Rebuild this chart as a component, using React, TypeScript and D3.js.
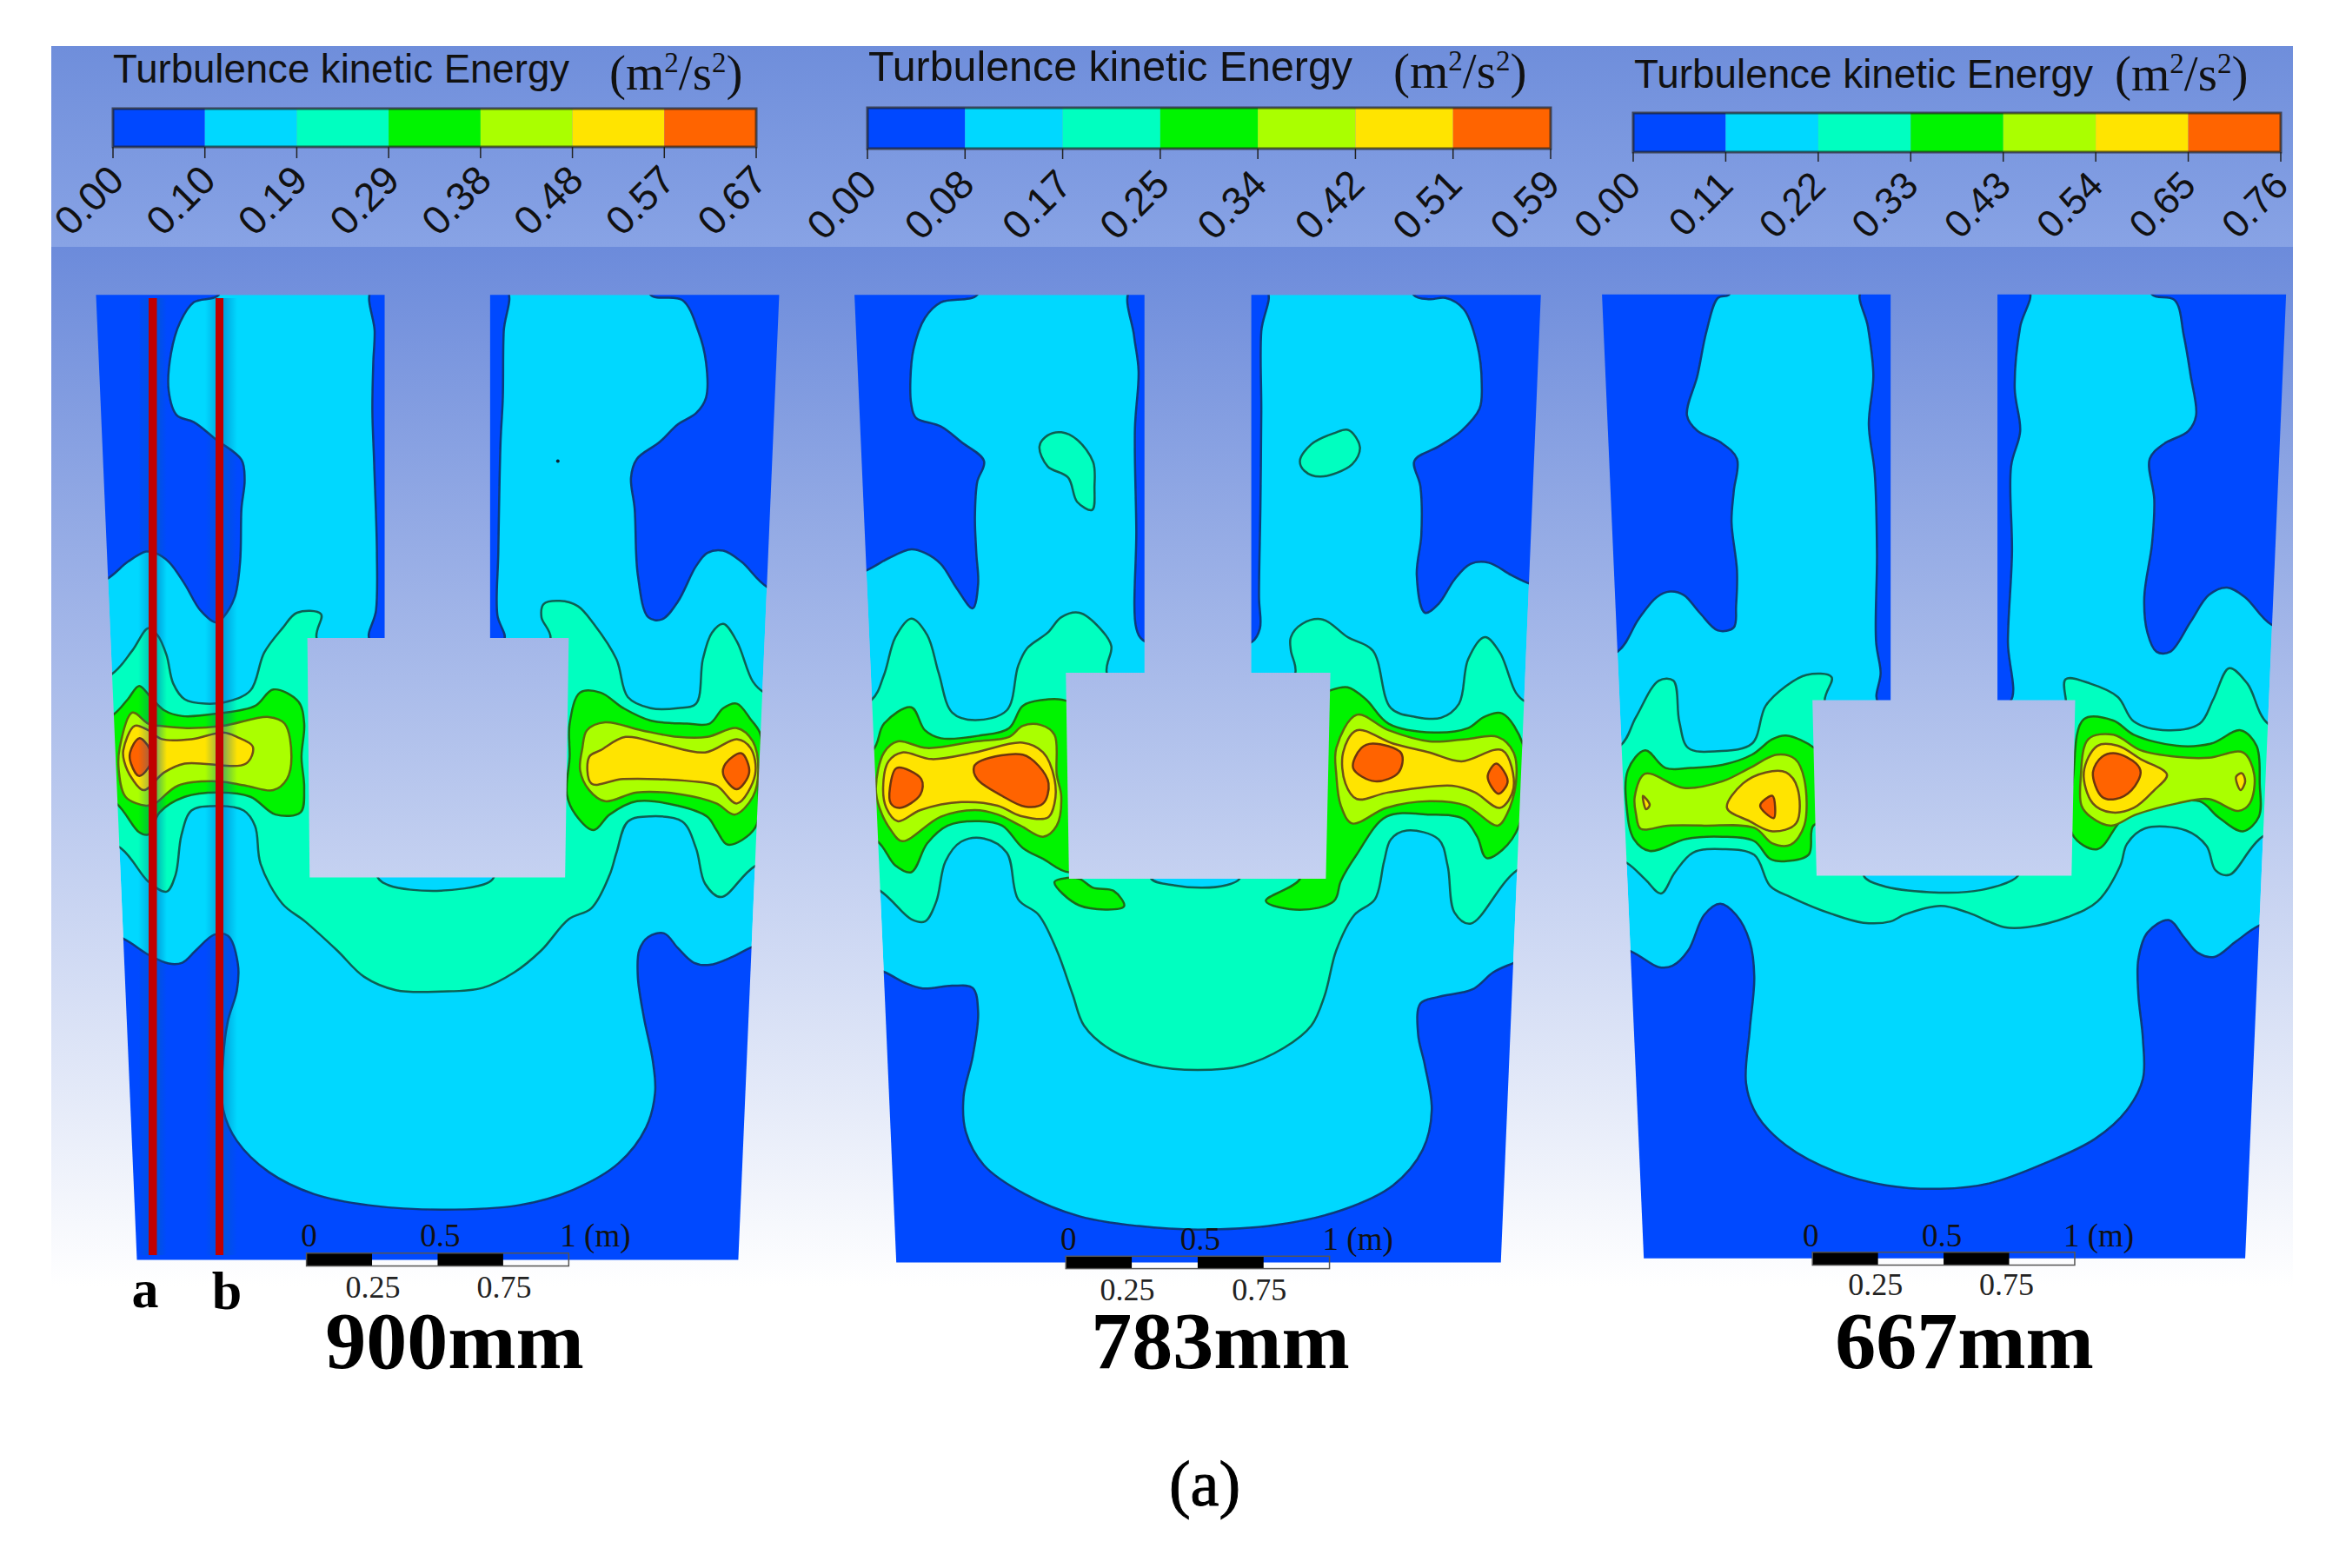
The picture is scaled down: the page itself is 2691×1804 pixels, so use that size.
import React from 'react';
import * as d3 from 'd3';

type Pt = [number, number];

// Shares of the colour bar, low to high
const levelColors = ['#0048ff', '#00d8ff', '#00ffc0', '#00f400', '#aaff00', '#ffe400', '#ff6400'];
const levelLines = ['#0b3a78', '#0a4f70', '#0d5f52', '#1f6a18', '#5a6a0c', '#6f5012', '#6e340e'];

const panelNames = ['900mm', '783mm', '667mm'];
const ticks900 = ['0.00', '0.10', '0.19', '0.29', '0.38', '0.48', '0.57', '0.67'];
const ticks783 = ['0.00', '0.08', '0.17', '0.25', '0.34', '0.42', '0.51', '0.59'];
const ticks667 = ['0.00', '0.11', '0.22', '0.33', '0.43', '0.54', '0.65', '0.76'];
const scaleTop = [0, 0.5];
const scaleBottom = [0.25, 0.75];
const legendTitle = 'Turbulence kinetic Energy';

// Contours below are read off the picture, in mesh units (1568 units = 820px wide, 800px high)
// 900mm
const outline900: Pt[] = [[20, 18], [1523, 18], [1433, 2194], [110, 2194]];
const stem900: Pt[] = [[655, 0], [887, 0], [887, 800], [655, 800]];
const box900: Pt[] = [[485, 792], [1060, 792], [1052, 1332], [490, 1332]];
const blueTL900: Pt[] = [[290, 18], [235, 35], [205, 80], [185, 150], [180, 235], [198, 290], [235, 305], [285, 345], [340, 390], [347, 435], [340, 500], [337, 620], [325, 700], [300, 745], [285, 757], [250, 730], [215, 670], [180, 620], [150, 600], [130, 597], [90, 620], [42, 660], [-50, 690], [-80, -60], [290, -60]];
const blueTR900: Pt[] = [[1240, 18], [1310, 30], [1345, 100], [1362, 170], [1362, 250], [1340, 285], [1300, 310], [1260, 350], [1210, 388], [1197, 430], [1205, 500], [1212, 650], [1235, 745], [1265, 750], [1300, 710], [1340, 630], [1365, 600], [1400, 595], [1440, 620], [1498, 678], [1620, 720], [1640, -60], [1240, -60]];
const blueStemL900: Pt[] = [[625, 10], [633, 100], [630, 170], [628, 280], [632, 400], [638, 600], [636, 730], [622, 795], [700, 810], [700, 0]];
const blueStemR900: Pt[] = [[925, 10], [917, 100], [915, 250], [910, 350], [905, 600], [903, 740], [918, 795], [850, 810], [850, 0]];
const blueLow900: Pt[] = [[78, 1469], [135, 1506], [180, 1526], [210, 1524], [240, 1496], [280, 1461], [310, 1463], [332, 1526], [330, 1586], [310, 1656], [300, 1736], [300, 1856], [330, 1926], [400, 1996], [500, 2046], [620, 2071], [780, 2081], [950, 2071], [1070, 2036], [1170, 1976], [1230, 1896], [1250, 1816], [1245, 1746], [1225, 1646], [1212, 1556], [1215, 1496], [1235, 1466], [1270, 1458], [1300, 1491], [1335, 1524], [1370, 1529], [1420, 1511], [1463, 1489], [1620, 1440], [1640, 2320], [-80, 2320], [-60, 1420]];
const teal900: Pt[] = [[55, 873], [100, 820], [135, 770], [155, 785], [175, 830], [190, 895], [215, 930], [260, 940], [310, 935], [360, 910], [390, 825], [430, 770], [462, 735], [515, 738], [505, 790], [560, 900], [960, 900], [1020, 792], [1000, 745], [1005, 715], [1040, 708], [1080, 720], [1115, 760], [1165, 840], [1190, 925], [1240, 950], [1300, 950], [1340, 940], [1355, 840], [1375, 780], [1400, 760], [1430, 800], [1465, 890], [1490, 915], [1620, 960], [1620, 1250], [1470, 1306], [1395, 1376], [1360, 1346], [1340, 1266], [1310, 1206], [1240, 1194], [1190, 1206], [1165, 1276], [1150, 1326], [1110, 1401], [1060, 1426], [1000, 1496], [940, 1546], [870, 1581], [780, 1589], [680, 1586], [610, 1556], [550, 1496], [480, 1431], [430, 1391], [382, 1301], [370, 1216], [345, 1181], [275, 1171], [230, 1181], [208, 1236], [195, 1326], [175, 1364], [135, 1341], [75, 1266], [-60, 1200], [-60, 920]];
const lens900: Pt[] = [[640, 1332], [665, 1350], [770, 1362], [880, 1345], [895, 1332], [895, 1290], [640, 1290]];
const greenL900: Pt[] = [[58, 965], [90, 930], [115, 900], [140, 925], [170, 955], [210, 968], [290, 962], [370, 945], [410, 908], [465, 935], [478, 985], [472, 1060], [478, 1130], [470, 1185], [415, 1190], [360, 1150], [290, 1140], [215, 1150], [160, 1185], [135, 1235], [115, 1230], [65, 1165], [-40, 1100], [-40, 1020]];
const limeL900: Pt[] = [[72, 1040], [100, 960], [135, 985], [160, 990], [220, 995], [300, 990], [400, 970], [435, 985], [450, 1060], [440, 1110], [410, 1135], [350, 1125], [285, 1115], [200, 1125], [150, 1165], [130, 1170], [85, 1150], [70, 1090]];
const yellowL900: Pt[] = [[80, 1045], [105, 990], [135, 1000], [165, 1020], [230, 1020], [300, 1005], [330, 1015], [365, 1037], [350, 1075], [215, 1075], [170, 1095], [125, 1135], [100, 1110], [82, 1070]];
const orangeL900: Pt[] = [[95, 1050], [115, 1018], [137, 1040], [140, 1075], [115, 1103], [97, 1075]];
const greenR900: Pt[] = [[1062, 985], [1085, 915], [1130, 915], [1180, 950], [1240, 978], [1320, 985], [1370, 985], [1400, 950], [1430, 940], [1460, 975], [1482, 1010], [1478, 1120], [1470, 1220], [1410, 1258], [1385, 1225], [1365, 1195], [1300, 1170], [1210, 1160], [1150, 1190], [1115, 1225], [1075, 1190], [1056, 1145], [1062, 1060]];
const limeR900: Pt[] = [[1090, 1040], [1100, 1000], [1140, 982], [1220, 1000], [1300, 1015], [1365, 1015], [1430, 995], [1465, 1025], [1477, 1090], [1465, 1150], [1425, 1190], [1385, 1165], [1310, 1145], [1210, 1140], [1140, 1160], [1105, 1135], [1085, 1090]];
const yellowR900: Pt[] = [[1105, 1060], [1130, 1045], [1185, 1015], [1260, 1030], [1360, 1050], [1430, 1020], [1460, 1040], [1470, 1100], [1430, 1165], [1385, 1125], [1330, 1115], [1180, 1110], [1110, 1120]];
const orangeR900: Pt[] = [[1405, 1075], [1440, 1052], [1457, 1095], [1430, 1133], [1400, 1100]];
const stray900: Pt[] = [[1036, 393]];

// 783mm
const outline783: Pt[] = [[25, 18], [1535, 18], [1447, 2200], [117, 2200]];
const stem783: Pt[] = [[663, 0], [898, 0], [898, 880], [663, 880]];
const box783: Pt[] = [[490, 870], [1072, 870], [1062, 1335], [497, 1335]];
const blueTL783: Pt[] = [[295, 18], [215, 35], [180, 70], [155, 140], [148, 210], [150, 265], [160, 295], [215, 315], [260, 350], [310, 393], [295, 440], [290, 520], [293, 600], [297, 670], [285, 725], [250, 680], [215, 625], [180, 600], [150, 592], [100, 612], [50, 640], [-60, 680], [-80, -60], [295, -60]];
const blueTR783: Pt[] = [[1255, 18], [1290, 28], [1325, 25], [1365, 50], [1395, 130], [1405, 220], [1400, 275], [1360, 325], [1310, 360], [1257, 392], [1270, 450], [1272, 560], [1262, 650], [1280, 735], [1310, 715], [1345, 660], [1380, 625], [1420, 622], [1470, 650], [1512, 670], [1620, 700], [1640, -60], [1255, -60]];
const blueStemL783: Pt[] = [[630, 10], [640, 110], [650, 190], [642, 320], [645, 550], [645, 770], [660, 797], [720, 810], [720, 0]];
const blueStemR783: Pt[] = [[933, 10], [920, 100], [920, 280], [918, 500], [915, 700], [917, 770], [900, 800], [850, 810], [850, 0]];
const blueLow783: Pt[] = [[88, 1544], [135, 1569], [175, 1582], [240, 1576], [285, 1581], [297, 1636], [285, 1736], [265, 1826], [270, 1906], [310, 1981], [400, 2046], [520, 2096], [650, 2118], [780, 2126], [950, 2116], [1100, 2081], [1210, 2026], [1275, 1946], [1295, 1856], [1280, 1756], [1265, 1686], [1270, 1616], [1310, 1601], [1385, 1584], [1430, 1546], [1472, 1526], [1620, 1470], [1640, 2320], [-80, 2320], [-60, 1500]];
const teal783: Pt[] = [[62, 932], [90, 875], [115, 790], [150, 748], [185, 785], [210, 870], [240, 960], [290, 977], [360, 955], [385, 855], [405, 815], [450, 780], [480, 745], [520, 735], [565, 770], [590, 810], [580, 870], [640, 960], [940, 960], [995, 870], [985, 820], [985, 790], [1010, 760], [1055, 750], [1110, 790], [1165, 820], [1205, 950], [1260, 970], [1315, 972], [1355, 940], [1375, 840], [1412, 790], [1445, 825], [1480, 915], [1500, 935], [1620, 970], [1620, 1260], [1482, 1316], [1380, 1436], [1345, 1411], [1330, 1306], [1310, 1246], [1240, 1226], [1205, 1246], [1190, 1296], [1170, 1381], [1125, 1416], [1085, 1496], [1060, 1596], [1030, 1666], [970, 1716], [880, 1756], [780, 1766], [680, 1756], [590, 1721], [530, 1666], [505, 1596], [470, 1496], [430, 1416], [385, 1381], [360, 1276], [310, 1244], [260, 1251], [225, 1296], [205, 1386], [180, 1431], [150, 1426], [80, 1361], [-60, 1300], [-60, 980]];
const lens783: Pt[] = [[678, 1335], [730, 1350], [790, 1355], [840, 1350], [872, 1335], [872, 1295], [678, 1295]];
const islandL783: Pt[] = [[432, 360], [450, 335], [480, 328], [515, 345], [550, 395], [553, 450], [548, 503], [515, 485], [495, 430], [450, 405]];
const islandR783: Pt[] = [[1005, 392], [1030, 355], [1080, 330], [1112, 323], [1137, 362], [1120, 400], [1050, 428], [1015, 415]];
const greenL783: Pt[] = [[65, 1045], [90, 985], [150, 948], [180, 1000], [215, 1018], [300, 1012], [365, 995], [395, 945], [435, 932], [495, 935], [560, 1000], [560, 1290], [497, 1320], [440, 1290], [395, 1265], [350, 1215], [300, 1205], [230, 1215], [185, 1255], [150, 1320], [115, 1305], [75, 1250], [-40, 1200], [-40, 1090]];
const chunkL783: Pt[] = [[492, 1333], [465, 1342], [520, 1395], [618, 1397], [595, 1362], [550, 1355], [520, 1335]];
const greenR783: Pt[] = [[1072, 910], [1110, 903], [1150, 930], [1200, 985], [1300, 1005], [1375, 995], [1410, 970], [1450, 962], [1495, 1030], [1500, 1100], [1487, 1215], [1450, 1270], [1415, 1288], [1395, 1240], [1365, 1200], [1290, 1190], [1195, 1195], [1130, 1280], [1095, 1340], [1080, 1385], [1005, 1405], [930, 1385], [1005, 1335], [1000, 1280], [1000, 950]];
const limeL783: Pt[] = [[72, 1130], [90, 1050], [120, 1025], [185, 1040], [290, 1025], [365, 1015], [395, 990], [435, 988], [465, 1010], [470, 1100], [480, 1150], [470, 1215], [440, 1240], [390, 1215], [340, 1190], [290, 1180], [215, 1195], [130, 1250], [105, 1225], [80, 1175]];
const yellowL783: Pt[] = [[88, 1130], [100, 1070], [130, 1050], [195, 1065], [290, 1050], [395, 1028], [440, 1050], [465, 1110], [465, 1165], [450, 1197], [390, 1193], [340, 1170], [260, 1162], [170, 1180], [120, 1205], [95, 1175]];
const orangeA783: Pt[] = [[103, 1130], [118, 1085], [172, 1110], [170, 1145], [125, 1175], [105, 1165]];
const orangeB783: Pt[] = [[288, 1082], [305, 1068], [395, 1055], [430, 1080], [452, 1120], [440, 1165], [400, 1172], [350, 1148], [295, 1110]];
const limeR783: Pt[] = [[1085, 1040], [1130, 965], [1200, 1000], [1290, 1025], [1370, 1020], [1440, 1015], [1475, 1050], [1480, 1120], [1460, 1190], [1440, 1215], [1370, 1170], [1290, 1160], [1195, 1175], [1120, 1210], [1095, 1170], [1085, 1100]];
const yellowR783: Pt[] = [[1100, 1050], [1130, 1000], [1210, 1030], [1290, 1050], [1360, 1070], [1450, 1045], [1475, 1130], [1445, 1175], [1390, 1140], [1340, 1125], [1200, 1140], [1130, 1155], [1105, 1120]];
const orangeC783: Pt[] = [[1122, 1085], [1140, 1040], [1165, 1030], [1228, 1052], [1222, 1095], [1170, 1115]];
const orangeD783: Pt[] = [[1418, 1105], [1437, 1075], [1462, 1115], [1442, 1143]];

// 667mm
const outline667: Pt[] = [[25, 17], [1530, 17], [1440, 2191], [117, 2191]];
const stem667: Pt[] = [[660, 0], [895, 0], [895, 940], [660, 940]];
const box667: Pt[] = [[488, 932], [1066, 932], [1058, 1328], [497, 1328]];
const blueTL667: Pt[] = [[305, 17], [280, 25], [255, 100], [235, 200], [212, 290], [235, 325], [285, 350], [322, 388], [315, 460], [310, 530], [322, 640], [320, 720], [315, 768], [280, 775], [240, 735], [205, 695], [175, 687], [145, 700], [105, 750], [60, 822], [-60, 860], [-80, -60], [305, -60]];
const blueTR667: Pt[] = [[1235, 17], [1285, 30], [1305, 110], [1320, 200], [1332, 290], [1315, 325], [1260, 355], [1230, 388], [1240, 480], [1235, 580], [1218, 700], [1225, 780], [1245, 823], [1275, 823], [1320, 755], [1360, 695], [1400, 678], [1440, 700], [1498, 762], [1620, 800], [1640, -60], [1235, -60]];
const blueStemL667: Pt[] = [[595, 10], [610, 90], [622, 200], [612, 310], [625, 420], [630, 600], [628, 800], [638, 870], [632, 935], [720, 945], [720, 0]];
const blueStemR667: Pt[] = [[965, 10], [945, 90], [933, 230], [945, 325], [925, 405], [927, 600], [918, 800], [923, 935], [850, 945], [850, 0]];
const blueLow667: Pt[] = [[88, 1498], [150, 1534], [180, 1531], [215, 1496], [250, 1416], [285, 1391], [320, 1416], [350, 1476], [360, 1556], [350, 1676], [342, 1796], [365, 1866], [430, 1936], [540, 1996], [650, 2026], [770, 2034], [880, 2021], [1000, 1976], [1110, 1921], [1180, 1856], [1215, 1786], [1215, 1696], [1205, 1596], [1205, 1516], [1225, 1456], [1272, 1428], [1305, 1466], [1335, 1501], [1372, 1511], [1420, 1476], [1470, 1441], [1620, 1390], [1640, 2320], [-80, 2320], [-60, 1450]];
const teal667: Pt[] = [[65, 1035], [100, 970], [150, 888], [182, 888], [195, 980], [215, 1040], [280, 1047], [355, 1030], [385, 945], [430, 900], [475, 875], [530, 880], [515, 935], [560, 1020], [1000, 1020], [1045, 960], [1045, 885], [1100, 895], [1160, 925], [1195, 980], [1270, 1000], [1340, 985], [1370, 930], [1405, 860], [1445, 895], [1490, 985], [1620, 1030], [1620, 1190], [1478, 1240], [1405, 1326], [1375, 1316], [1355, 1261], [1310, 1226], [1220, 1221], [1180, 1256], [1165, 1306], [1115, 1386], [1050, 1421], [960, 1444], [910, 1444], [830, 1411], [770, 1396], [690, 1416], [660, 1431], [600, 1434], [530, 1414], [440, 1376], [395, 1351], [360, 1281], [290, 1268], [225, 1276], [185, 1321], [155, 1368], [120, 1336], [78, 1298], [-60, 1240], [-60, 1080]];
const lens667: Pt[] = [[602, 1330], [640, 1350], [745, 1365], [860, 1360], [940, 1328], [940, 1290], [602, 1290]];
const greenL667: Pt[] = [[82, 1090], [120, 1045], [165, 1085], [220, 1085], [290, 1078], [355, 1055], [400, 1020], [430, 1012], [495, 1042], [540, 1100], [540, 1200], [490, 1215], [480, 1280], [430, 1295], [395, 1290], [360, 1250], [290, 1240], [210, 1245], [130, 1272], [95, 1245], [80, 1180]];
const limeL667: Pt[] = [[97, 1150], [120, 1098], [205, 1130], [290, 1115], [350, 1085], [410, 1055], [450, 1065], [470, 1110], [470, 1215], [440, 1258], [400, 1255], [360, 1220], [250, 1215], [170, 1215], [110, 1222], [100, 1190]];
const yellowL667: Pt[] = [[300, 1175], [335, 1120], [385, 1095], [430, 1095], [455, 1130], [452, 1210], [400, 1228], [350, 1205]];
const orangeL667: Pt[] = [[373, 1170], [400, 1148], [403, 1198]];
const speckL667: Pt[] = [[115, 1148], [130, 1168], [122, 1178]];
const greenR667: Pt[] = [[1062, 1100], [1085, 975], [1150, 978], [1195, 1010], [1290, 1035], [1365, 1030], [1430, 1000], [1465, 1035], [1472, 1120], [1470, 1195], [1435, 1228], [1380, 1195], [1340, 1160], [1250, 1170], [1175, 1195], [1115, 1268], [1060, 1235]];
const limeR667: Pt[] = [[1078, 1110], [1095, 1020], [1150, 1010], [1210, 1045], [1290, 1060], [1360, 1062], [1435, 1050], [1460, 1100], [1450, 1165], [1425, 1182], [1360, 1155], [1290, 1165], [1200, 1190], [1145, 1215], [1100, 1195], [1080, 1170]];
const yellowR667: Pt[] = [[1085, 1095], [1115, 1035], [1160, 1035], [1210, 1065], [1268, 1100], [1240, 1135], [1195, 1175], [1145, 1185], [1105, 1165]];
const orangeR667: Pt[] = [[1105, 1095], [1125, 1060], [1155, 1052], [1200, 1075], [1210, 1095], [1190, 1135], [1155, 1155], [1125, 1150]];
const speckR667: Pt[] = [[1420, 1105], [1433, 1097], [1440, 1115], [1430, 1135]];

// Paint order: low levels first, cyan is the floor of each panel
const regions900: [number, Pt[]][] = [[0, blueTL900], [0, blueTR900], [0, blueStemL900], [0, blueStemR900], [0, blueLow900], [2, teal900], [1, lens900], [3, greenL900], [4, limeL900], [5, yellowL900], [6, orangeL900], [3, greenR900], [4, limeR900], [5, yellowR900], [6, orangeR900]];
const regions783: [number, Pt[]][] = [[0, blueTL783], [0, blueTR783], [0, blueStemL783], [0, blueStemR783], [0, blueLow783], [2, teal783], [2, islandL783], [2, islandR783], [1, lens783], [3, greenL783], [3, chunkL783], [3, greenR783], [4, limeL783], [5, yellowL783], [6, orangeA783], [6, orangeB783], [4, limeR783], [5, yellowR783], [6, orangeC783], [6, orangeD783]];
const regions667: [number, Pt[]][] = [[0, blueTL667], [0, blueTR667], [0, blueStemL667], [0, blueStemR667], [0, blueLow667], [2, teal667], [1, lens667], [3, greenL667], [4, limeL667], [5, yellowL667], [6, orangeL667], [5, speckL667], [3, greenR667], [4, limeR667], [5, yellowR667], [6, orangeR667], [5, speckR667]];

const width = 2691;
const height = 1804;

const panels = [
  {
    id: 'p900', ox: 100, outline: outline900, stem: stem900, box: box900, regions: regions900, ticks: ticks900, stray: stray900,
    bar: { x0: 130, x1: 870, y0: 125, y1: 169, tickEnd: 182, lx: 15, ly: 210, fs: 46 },
    title: { x: 130, x1: 655, y: 95, fs: 47 }, unit: { x: 701, y: 103, fs: 57 },
    sb: { x0: 483, x1: 1060, y0: 2179, y1: 2208, top: 2164, bot: 2279, dTop: 3, dOne: -10, dBot: 1 }, name: { x: 523, y: 1574 },
  },
  {
    id: 'p783', ox: 970, outline: outline783, stem: stem783, box: box783, regions: regions783, ticks: ticks783, stray: [] as Pt[],
    bar: { x0: 998, x1: 1784, y0: 124, y1: 171, tickEnd: 183, lx: 13, ly: 215, fs: 46 },
    title: { x: 999, x1: 1556, y: 93, fs: 49 }, unit: { x: 1603, y: 101, fs: 57 },
    sb: { x0: 490, x1: 1070, y0: 2186, y1: 2214, top: 2171, bot: 2286, dTop: 3, dOne: -8, dBot: -5 }, name: { x: 1404, y: 1574 },
  },
  {
    id: 'p667', ox: 1830, outline: outline667, stem: stem667, box: box667, regions: regions667, ticks: ticks667, stray: [] as Pt[],
    bar: { x0: 1879, x1: 2624, y0: 130, y1: 175, tickEnd: 186, lx: 11, ly: 216, fs: 44 },
    title: { x: 1880, x1: 2408, y: 101, fs: 47 }, unit: { x: 2433, y: 104, fs: 57 },
    sb: { x0: 488, x1: 1065, y0: 2177, y1: 2206, top: 2164, bot: 2274, dTop: -2, dOne: -13, dBot: -3 }, name: { x: 2260, y: 1574 },
  },
];

const sans = '"Liberation Sans", Arial, sans-serif';
const serif = '"Liberation Serif", "Times New Roman", serif';

const y = d3.scaleLinear().domain([0, 1568]).range([330, 1130]);

const Panel = ({ p }: { p: (typeof panels)[number] }) => {
  const x = d3.scaleLinear().domain([0, 1568]).range([p.ox, p.ox + 820]);
  const toPx = (d: Pt): Pt => [x(d[0]), y(d[1])];
  const contour = d3.line().curve(d3.curveCatmullRomClosed.alpha(0.5));
  const poly = d3.line().curve(d3.curveLinearClosed);
  const mask = poly(p.outline.map(toPx)) as string;

  const legend = d3.scaleLinear().domain([0, levelColors.length]).range([p.bar.x0, p.bar.x1]);
  const metres = d3.scaleLinear().domain([0, 1]).range([x(p.sb.x0), x(p.sb.x1)]);
  const sy0 = y(p.sb.y0);
  const sy1 = y(p.sb.y1);

  return (
    <g>
      {/* legend */}
      <text x={p.title.x} y={p.title.y} fontFamily={sans} fontSize={p.title.fs} fill="#111"
        textLength={p.title.x1 - p.title.x} lengthAdjust="spacingAndGlyphs">{legendTitle}</text>
      <text x={p.unit.x} y={p.unit.y} fontFamily={serif} fontSize={p.unit.fs} fill="#111">
        (m<tspan dy={-20} fontSize={p.unit.fs * 0.58}>2</tspan>
        <tspan dy={20}>/s</tspan>
        <tspan dy={-20} fontSize={p.unit.fs * 0.58}>2</tspan>
        <tspan dy={20}>)</tspan>
      </text>
      {levelColors.map((c, i) => (
        <rect key={c} x={legend(i)} y={p.bar.y0} width={legend(i + 1) - legend(i)} height={p.bar.y1 - p.bar.y0} fill={c} />
      ))}
      <rect x={p.bar.x0} y={p.bar.y0} width={p.bar.x1 - p.bar.x0} height={p.bar.y1 - p.bar.y0}
        fill="none" stroke="#222" strokeOpacity={0.7} strokeWidth={3} />
      {p.ticks.map((t, i) => (
        <g key={t}>
          <line x1={legend(i)} x2={legend(i)} y1={p.bar.y1} y2={p.bar.tickEnd} stroke="#222" strokeWidth={1.5} />
          <text transform={`translate(${legend(i) + p.bar.lx},${p.bar.ly}) rotate(-45)`} textAnchor="end"
            fontFamily={sans} fontSize={p.bar.fs} fill="#111">{t}</text>
        </g>
      ))}

      {/* contour field */}
      <clipPath id={`clip-${p.id}`}><path d={mask} /></clipPath>
      <g clipPath={`url(#clip-${p.id})`} filter="url(#soft)">
        <path d={mask} fill={levelColors[1]} />
        {p.regions.map(([level, pts], i) => (
          <path key={i} d={contour(pts.map(toPx)) as string} fill={levelColors[level]}
            stroke={levelLines[level === 1 ? 2 : level]} strokeWidth={2.5} />
        ))}
        {p.stray.map((d, i) => <circle key={i} cx={x(d[0])} cy={y(d[1])} r={2} fill="#123" />)}
      </g>
      <path d={poly(p.stem.map(toPx)) as string} fill="url(#bodyBg)" />
      <path d={poly(p.box.map(toPx)) as string} fill="url(#bodyBg)" />

      {/* scale bar */}
      {scaleBottom.map(v => (
        <rect key={v} x={metres(v - 0.25)} y={sy0} width={metres(v) - metres(v - 0.25)} height={sy1 - sy0} fill="#000" />
      ))}
      <rect x={metres(0)} y={sy0} width={metres(1) - metres(0)} height={sy1 - sy0} fill="none" stroke="#555" strokeWidth={1.5} />
      {scaleTop.map(v => (
        <text key={v} x={metres(v) + p.sb.dTop} y={y(p.sb.top)} textAnchor="middle" fontFamily={serif} fontSize={37} fill="#111">{v}</text>
      ))}
      <text x={metres(1) + p.sb.dOne} y={y(p.sb.top)} fontFamily={serif} fontSize={37} fill="#111">1 (m)</text>
      {scaleBottom.map(v => (
        <text key={v} x={metres(v) + p.sb.dBot} y={y(p.sb.bot)} textAnchor="middle" fontFamily={serif} fontSize={36} fill="#222">{v}</text>
      ))}
    </g>
  );
};

export default function App() {
  const names = panelNames;
  return (
    <div style={{ position: 'absolute', left: 0, top: 0, width, height, background: '#fff' }}>
      <svg width={width} height={height} viewBox={`0 0 ${width} ${height}`} style={{ display: 'block' }}>
        <defs>
          <linearGradient id="legendBg" gradientUnits="userSpaceOnUse" x1={0} x2={0} y1={53} y2={284}>
            <stop offset="0" stopColor="#6f8edb" />
            <stop offset="1" stopColor="#88a3e5" />
          </linearGradient>
          <linearGradient id="bodyBg" gradientUnits="userSpaceOnUse" x1={0} x2={0} y1={284} y2={1480}>
            <stop offset="0" stopColor="#6c8bdb" />
            <stop offset="1" stopColor="#ffffff" />
          </linearGradient>
          <linearGradient id="glowR" x1="0" x2="1" y1="0" y2="0">
            <stop offset="0" stopColor="#0060b0" stopOpacity={0.45} />
            <stop offset="1" stopColor="#0060b0" stopOpacity={0} />
          </linearGradient>
          <linearGradient id="glowL" x1="1" x2="0" y1="0" y2="0">
            <stop offset="0" stopColor="#0060b0" stopOpacity={0.3} />
            <stop offset="1" stopColor="#0060b0" stopOpacity={0} />
          </linearGradient>
          <filter id="soft" x="-2%" y="-2%" width="104%" height="104%">
            <feGaussianBlur stdDeviation={0.6} />
          </filter>
        </defs>
        <rect width={width} height={height} fill="#fff" />
        <rect x={59} y={53} width={2579} height={231} fill="url(#legendBg)" />
        <rect x={59} y={284} width={2579} height={1196} fill="url(#bodyBg)" />

        {panels.map(p => <Panel key={p.id} p={p} />)}

        {/* sampling lines a and b */}
        <rect x={159} y={343} width={12} height={1101} fill="url(#glowL)" />
        <rect x={180} y={343} width={12} height={1101} fill="url(#glowR)" />
        <rect x={236} y={343} width={12} height={1101} fill="url(#glowL)" />
        <rect x={257} y={343} width={16} height={1101} fill="url(#glowR)" />
        <rect x={171} y={343} width={9.5} height={1101} fill="#c00000" />
        <rect x={248} y={343} width={9} height={1101} fill="#c00000" />
        <text x={167} y={1504} textAnchor="middle" fontFamily={serif} fontWeight="bold" fontSize={62} fill="#000">a</text>
        <text x={261} y={1506} textAnchor="middle" fontFamily={serif} fontWeight="bold" fontSize={62} fill="#000">b</text>

        {panels.map((p, i) => (
          <text key={p.id} x={p.name.x} y={p.name.y} textAnchor="middle" fontFamily={serif} fontWeight="bold" fontSize={94} fill="#000">{names[i]}</text>
        ))}
        <text x={1386} y={1732} textAnchor="middle" fontFamily={serif} fontSize={74} fill="#000" stroke="#000" strokeWidth={1}>(a)</text>
      </svg>
    </div>
  );
}
